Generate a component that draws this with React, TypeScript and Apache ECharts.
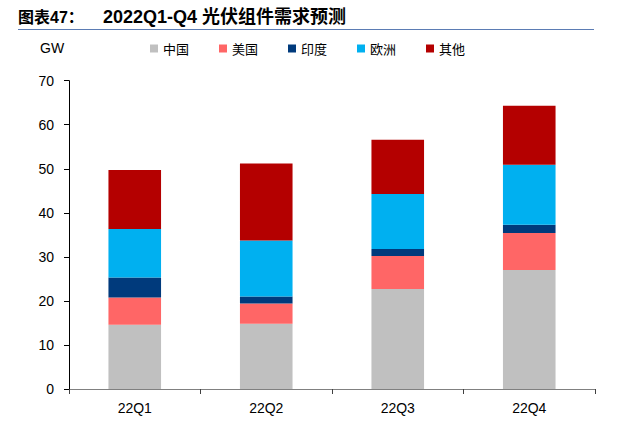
import React, { useEffect, useRef } from "react";
import * as echarts from "echarts";

const categories = ["22Q1", "22Q2", "22Q3", "22Q4"];
const seriesNames = ["中国", "美国", "印度", "欧洲", "其他"];
const china = [14.6, 14.8, 22.7, 27.0];
const usa = [6.2, 4.6, 7.5, 8.4];
const india = [4.5, 1.6, 1.6, 1.9];
const europe = [11.0, 12.7, 12.5, 13.6];
const others = [13.4, 17.5, 12.3, 13.4];
const colors = ["#c0c0c0", "#ff6666", "#003a7c", "#00b0f0", "#b40000"];

export default function App() {
  const ref = useRef<HTMLDivElement>(null);
  useEffect(() => {
    if (!ref.current) return;
    const chart = echarts.init(ref.current, null, { renderer: "svg" });
    const data = [china, usa, india, europe, others];
    const titleFont = "Liberation Sans, Noto Sans CJK SC, sans-serif";
    chart.setOption({
      animation: false,
      backgroundColor: "#ffffff",
      graphic: [
        {
          type: "text",
          x: 18,
          y: 17,
          style: {
            text: "图表47：",
            fontSize: 16,
            fontWeight: "bold",
            fill: "#000",
            fontFamily: titleFont,
            verticalAlign: "middle",
          },
        },
        {
          type: "text",
          x: 103,
          y: 17,
          style: {
            text: "2022Q1-Q4 光伏组件需求预测",
            fontSize: 18,
            fontWeight: "bold",
            fill: "#000",
            fontFamily: titleFont,
            verticalAlign: "middle",
          },
        },
        {
          type: "line",
          shape: { x1: 18, y1: 29.5, x2: 594, y2: 29.5 },
          style: { stroke: "#5b7cb4", lineWidth: 1 },
        },
        {
          type: "text",
          x: 40,
          y: 48,
          style: {
            text: "GW",
            fontSize: 14,
            fill: "#000",
            fontFamily: "Liberation Sans, Arial, sans-serif",
            verticalAlign: "middle",
          },
        },
      ],
      legend: {
        left: 145,
        top: 37,
        itemWidth: 8,
        itemHeight: 8,
        itemGap: 30,
        icon: "rect",
        data: seriesNames,
        textStyle: {
          fontSize: 13,
          color: "#000",
          fontFamily: "Noto Sans CJK SC, sans-serif",
        },
      },
      grid: { left: 69, right: 26, top: 80.7, bottom: 34 },
      xAxis: {
        type: "category",
        data: categories,
        axisLine: { lineStyle: { color: "#808080", width: 1 } },
        axisTick: { show: true, length: 5, lineStyle: { color: "#404040" } },
        axisLabel: {
          fontSize: 14,
          color: "#000",
          margin: 12,
          fontFamily: "Liberation Sans, Arial, sans-serif",
        },
      },
      yAxis: {
        type: "value",
        min: 0,
        max: 70,
        interval: 10,
        splitLine: { show: false },
        axisLine: { show: true, lineStyle: { color: "#000", width: 1 } },
        axisTick: { show: true, length: 5, lineStyle: { color: "#000" } },
        axisLabel: {
          fontSize: 14,
          color: "#000",
          margin: 15,
          fontFamily: "Liberation Sans, Arial, sans-serif",
        },
      },
      series: seriesNames.map((name, i) => ({
        name,
        type: "bar",
        stack: "total",
        barWidth: "40%",
        data: data[i],
        itemStyle: { color: colors[i] },
      })),
    });
    return () => chart.dispose();
  }, []);
  return (
    <div
      ref={ref}
      style={{ position: "fixed", left: 0, top: 0, width: 621, height: 423 }}
    />
  );
}
